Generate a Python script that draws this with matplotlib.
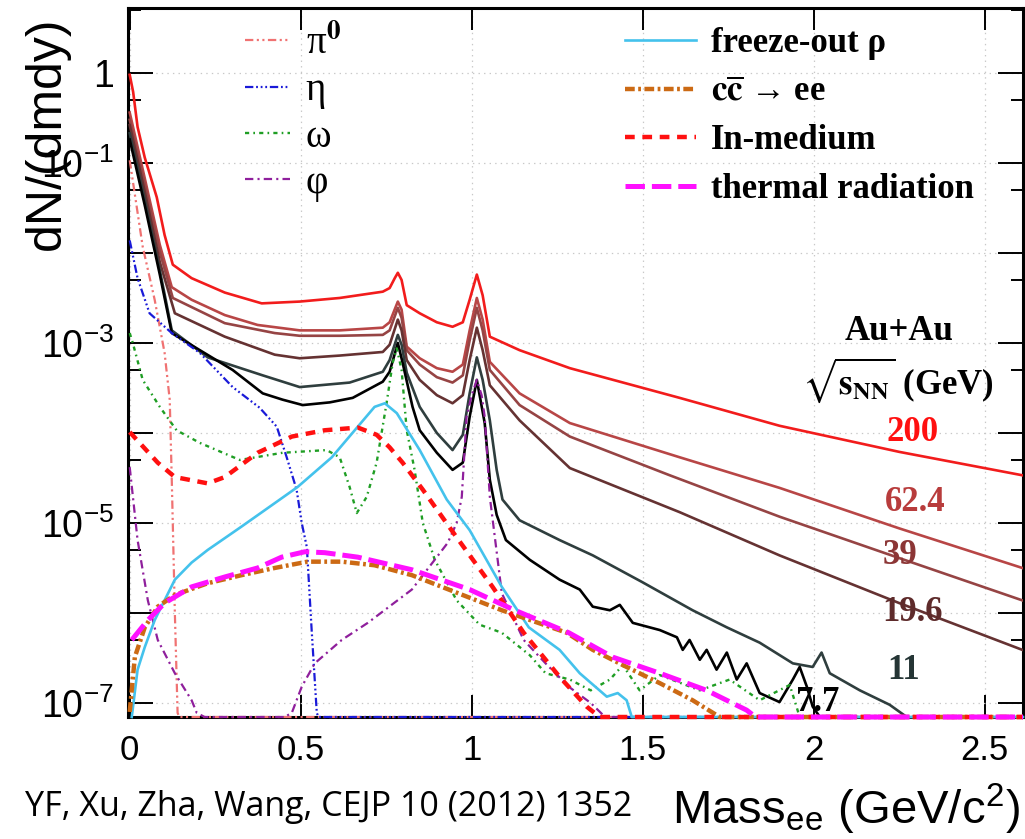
import numpy as np
import matplotlib
matplotlib.use('Agg')
import matplotlib.pyplot as plt
from matplotlib.ticker import FixedLocator, FixedFormatter, NullFormatter, NullLocator

plt.rcParams['font.family'] = 'Liberation Sans'
plt.rcParams['mathtext.fontset'] = 'stix'
plt.rcParams['lines.scale_dashes'] = False

# --- values: mass (GeV/c^2) and log10(dN/dmdy) ---
# Au+Au sums for each energy
m_200 = [0.0, 0.01, 0.023, 0.044, 0.079, 0.102, 0.126, 0.181, 0.278, 0.386, 0.497, 0.614, 0.74, 0.76, 0.775,
         0.784, 0.795, 0.81, 0.848, 0.898, 0.944, 0.974, 0.994, 1.015, 1.032, 1.053, 1.14, 1.287, 1.608, 1.90,
         2.25, 2.61]
lg_200 = [-0.02, -0.21, -0.60, -0.94, -1.38, -1.80, -2.13, -2.28, -2.44, -2.56, -2.54, -2.50, -2.43, -2.39, -2.28,
          -2.22, -2.30, -2.58, -2.67, -2.77, -2.82, -2.77, -2.52, -2.24, -2.47, -2.93, -3.08, -3.28, -3.61, -3.92,
          -4.21, -4.47]

m_624 = [0.0, 0.044, 0.088, 0.123, 0.181, 0.278, 0.374, 0.497, 0.614, 0.74, 0.76, 0.784, 0.795, 0.81, 0.848,
         0.898, 0.944, 0.974, 0.994, 1.015, 1.032, 1.053, 1.14, 1.287, 1.608, 1.90, 2.25, 2.61]
lg_624 = [-0.44, -1.17, -1.91, -2.38, -2.52, -2.69, -2.80, -2.86, -2.86, -2.83, -2.77, -2.54, -2.63, -3.04, -3.17,
          -3.28, -3.32, -3.24, -2.86, -2.50, -2.74, -3.21, -3.56, -3.89, -4.27, -4.61, -5.06, -5.50]

m_39 = [0.0, 0.044, 0.088, 0.126, 0.278, 0.424, 0.497, 0.614, 0.74, 0.76, 0.784, 0.795, 0.81, 0.848, 0.898,
        0.944, 0.974, 0.994, 1.015, 1.032, 1.053, 1.14, 1.287, 1.579, 1.90, 2.25, 2.61]
lg_39 = [-0.52, -1.24, -1.99, -2.50, -2.78, -2.89, -2.92, -2.92, -2.91, -2.86, -2.61, -2.72, -3.08, -3.24, -3.38,
         -3.44, -3.36, -2.97, -2.61, -2.86, -3.30, -3.69, -4.04, -4.47, -4.93, -5.39, -5.86]

m_196 = [0.0, 0.044, 0.088, 0.132, 0.278, 0.424, 0.497, 0.614, 0.74, 0.76, 0.784, 0.795, 0.81, 0.848, 0.898,
         0.944, 0.974, 0.994, 1.015, 1.032, 1.053, 1.14, 1.287, 1.608, 1.90, 2.25, 2.61]
lg_196 = [-0.58, -1.32, -2.10, -2.67, -2.93, -3.13, -3.17, -3.14, -3.10, -3.02, -2.74, -2.86, -3.19, -3.41, -3.58,
          -3.67, -3.58, -3.19, -2.83, -3.08, -3.47, -3.86, -4.39, -4.88, -5.36, -5.89, -6.41]

m_11 = [0.0, 0.044, 0.088, 0.123, 0.228, 0.389, 0.497, 0.643, 0.74, 0.76, 0.784, 0.795, 0.81, 0.848, 0.898,
        0.944, 0.974, 0.994, 1.015, 1.032, 1.053, 1.073, 1.09, 1.14, 1.257, 1.354, 1.50, 1.646, 1.746, 1.842,
        1.939, 1.997, 2.023, 2.047, 2.135, 2.222, 2.272]
lg_11 = [-0.67, -1.41, -2.19, -2.86, -3.16, -3.36, -3.49, -3.44, -3.32, -3.19, -2.91, -3.02, -3.33, -3.71, -4.00,
         -4.19, -4.02, -3.56, -3.16, -3.41, -3.86, -4.41, -4.74, -4.97, -5.19, -5.36, -5.66, -5.97, -6.16, -6.33,
         -6.56, -6.60, -6.44, -6.67, -6.86, -7.02, -7.19]

m_77 = [0.0, 0.044, 0.088, 0.123, 0.205, 0.301, 0.389, 0.447, 0.506, 0.585, 0.652, 0.74, 0.76, 0.784, 0.798,
        0.827, 0.848, 0.898, 0.944, 0.974, 0.994, 1.015, 1.038, 1.053, 1.073, 1.10, 1.17, 1.257, 1.316, 1.354,
        1.404, 1.433, 1.471, 1.55, 1.60, 1.617, 1.637, 1.667, 1.687, 1.716, 1.746, 1.775, 1.804, 1.842, 1.90,
        1.939, 1.959, 1.98, 1.997, 2.018]
lg_77 = [-0.74, -1.47, -2.24, -2.89, -3.08, -3.30, -3.56, -3.63, -3.69, -3.66, -3.61, -3.43, -3.32, -3.00, -3.22,
         -3.71, -3.97, -4.22, -4.41, -4.33, -3.82, -3.41, -3.89, -4.52, -4.91, -5.19, -5.41, -5.63, -5.74, -5.93,
         -5.97, -5.91, -6.11, -6.19, -6.27, -6.41, -6.30, -6.52, -6.41, -6.63, -6.44, -6.74, -6.56, -6.89, -6.99,
         -6.74, -6.60, -6.82, -7.04, -7.19]

energies = ['200', '62.4', '39', '19.6', '11', '7.7']
energy_colors = ['#f21c1c', '#b84646', '#964444', '#653232', '#2f3e3e', '#000000']
label_colors = ['#ff1010', '#b83c3c', '#8c3636', '#5e2b2b', '#253535', '#000000']

# cocktail components
m_pi0 = [0.0, 0.038, 0.073, 0.102, 0.117, 0.123, 0.132, 0.14, 0.145]
lg_pi0 = [-0.97, -1.93, -2.52, -3.11, -3.63, -4.52, -6.0, -7.11, -8.0]

m_eta = [0.0, 0.023, 0.058, 0.123, 0.205, 0.301, 0.38, 0.43, 0.459, 0.488, 0.503, 0.518, 0.532, 0.547, 0.552]
lg_eta = [-1.86, -2.28, -2.67, -2.89, -3.11, -3.49, -3.72, -3.93, -4.27, -4.63, -5.0, -5.27, -6.19, -7.11, -8.0]

m_omega = [0.0, 0.009, 0.038, 0.088, 0.137, 0.205, 0.322, 0.447, 0.576, 0.614, 0.643, 0.664, 0.693, 0.722, 0.751,
           0.769, 0.781, 0.795, 0.81, 0.833, 0.857, 0.892, 0.956, 1.023, 1.088, 1.17, 1.216, 1.287, 1.348, 1.404,
           1.442, 1.491, 1.55, 1.667, 1.754, 1.842, 1.93, 1.959]
lg_omega = [-2.89, -3.0, -3.41, -3.71, -3.97, -4.11, -4.30, -4.22, -4.19, -4.27, -4.60, -4.89, -4.71, -4.33, -3.67,
            -3.22, -3.06, -3.30, -3.97, -4.41, -5.0, -5.41, -5.86, -6.13, -6.22, -6.47, -6.67, -6.74, -6.86, -6.74,
            -6.58, -6.86, -6.69, -6.86, -6.74, -6.97, -6.80, -7.2]

m_phi = [0.0, 0.023, 0.053, 0.082, 0.132, 0.181, 0.196, 0.219, 0.33, 0.453, 0.474, 0.503, 0.541, 0.62, 0.696,
         0.825, 0.93, 0.956, 0.971, 0.985, 1.0, 1.015, 1.029, 1.038, 1.053, 1.088, 1.152, 1.216, 1.284, 1.348, 1.39]
lg_phi = [-4.38, -5.19, -5.86, -6.30, -6.67, -6.97, -7.11, -7.30, -7.8, -7.30, -7.11, -6.82, -6.56, -6.30, -6.11,
          -5.74, -5.22, -5.0, -4.71, -3.82, -3.58, -3.41, -3.58, -3.82, -4.71, -5.78, -6.30, -6.56, -6.82, -7.0, -7.16]

m_rho = [0.006, 0.023, 0.044, 0.073, 0.132, 0.181, 0.228, 0.327, 0.424, 0.491, 0.591, 0.716, 0.746, 0.781, 0.848,
         0.927, 0.994, 1.088, 1.167, 1.257, 1.316, 1.395, 1.427, 1.453, 1.468]
lg_rho = [-7.16, -6.63, -6.38, -6.08, -5.63, -5.44, -5.30, -5.04, -4.78, -4.60, -4.27, -3.71, -3.67, -3.78, -4.19,
          -4.74, -5.08, -5.71, -6.16, -6.41, -6.67, -6.93, -6.89, -6.97, -7.3]

m_ccbar = [0.0, 0.015, 0.044, 0.082, 0.132, 0.228, 0.327, 0.424, 0.52, 0.62, 0.716, 0.825, 1.088, 1.278, 1.354,
           1.453, 1.55, 1.646, 1.725]
lg_ccbar = [-7.1, -6.49, -6.16, -5.93, -5.80, -5.67, -5.58, -5.50, -5.43, -5.43, -5.47, -5.58, -5.97, -6.22, -6.41,
            -6.60, -6.78, -6.97, -7.2]

m_medium = [0.0, 0.082, 0.132, 0.228, 0.278, 0.374, 0.474, 0.57, 0.667, 0.722, 0.76, 0.798, 0.857, 0.956, 1.061,
            1.152, 1.257, 1.336, 1.374]
lg_medium = [-3.99, -4.33, -4.49, -4.56, -4.49, -4.22, -4.04, -3.97, -3.94, -4.02, -4.16, -4.33, -4.63, -5.16, -5.71,
             -6.22, -6.71, -7.04, -7.2]

m_thermal = [0.006, 0.053, 0.102, 0.181, 0.278, 0.374, 0.444, 0.512, 0.57, 0.667, 0.825, 0.994, 1.126, 1.284,
             1.412, 1.55, 1.687, 1.804, 1.83]
lg_thermal = [-6.30, -6.08, -5.89, -5.71, -5.60, -5.50, -5.38, -5.32, -5.33, -5.38, -5.52, -5.74, -5.97, -6.22,
              -6.49, -6.67, -6.86, -7.08, -7.2]

XMIN, XMAX = -0.005, 2.612
YMIN, YMAX = 10 ** -7.156, 10 ** 0.722

fig = plt.figure(figsize=(10.25, 8.39), dpi=100)
ax = fig.add_axes([128 / 1025, 1 - 717 / 839, 895 / 1025, 709 / 839])
ax.set_yscale('log')

# energy sums
sums = [(m_200, lg_200), (m_624, lg_624), (m_39, lg_39), (m_196, lg_196), (m_11, lg_11), (m_77, lg_77)]
for (m, lg), c in zip(sums, energy_colors):
    y = np.maximum(10.0 ** np.array(lg), YMIN)
    ax.plot(m, y, color=c, lw=1.9, zorder=2.6)


def component(m, lg, **kw):
    # ROOT draws points below the frame on the frame bottom
    x = np.append(m, XMAX)
    y = np.append(np.maximum(10.0 ** np.array(lg), YMIN), YMIN)
    line, = ax.plot(x, y, clip_on=False, **kw)
    return line


h_pi0 = component(m_pi0, lg_pi0, color='#f07272', lw=1.6, dashes=(6, 2.5, 1.5, 2.5, 1.5, 2.5),
                  label=r'π$^{\mathbf{0}}$', zorder=2.7)
h_eta = component(m_eta, lg_eta, color='#1a1ad8', lw=1.6, dashes=(6, 2, 1.3, 2, 1.3, 2, 1.3, 2),
                  label='η', zorder=2.75)
h_omega = component(m_omega, lg_omega, color='#1f9e24', lw=1.7, dashes=(3, 3, 1.2, 3),
                    label='ω', zorder=2.8)
h_phi = component(m_phi, lg_phi, color='#8f1f9c', lw=1.6, dashes=(6, 3, 1.5, 3),
                  label='φ', zorder=2.85)
h_rho = component(m_rho, lg_rho, color='#44c2ec', lw=1.9, label='freeze-out ρ', zorder=2.9)
h_cc = component(m_ccbar, lg_ccbar, color='#cc6a14', lw=3.2, dashes=(7, 2.5, 2, 2.5),
                 label=r'$\mathbf{c\overline{c}}$ → ee', zorder=2.95)
h_med = component(m_medium, lg_medium, color='#ff1010', lw=3.2, dashes=(7, 5.5),
                  label='In-medium', zorder=3.0)
h_th = component(m_thermal, lg_thermal, color='#ff10ff', lw=3.6, dashes=(14, 5),
                 label='thermal radiation', zorder=3.05)

ax.set_xlim(XMIN, XMAX)
ax.set_ylim(YMIN, YMAX)

# axes, ticks, grid
ax.set_xticks([0, 0.5, 1, 1.5, 2, 2.5])
ax.set_xticklabels(['0', '0.5', '1', '1.5', '2', '2.5'])
ax.xaxis.set_minor_locator(NullLocator())
decades = range(-7, 1)
ylabels = {0: '1', -1: r'$\mathregular{10^{-1}}$', -3: r'$\mathregular{10^{-3}}$',
           -5: r'$\mathregular{10^{-5}}$', -7: r'$\mathregular{10^{-7}}$'}
ax.yaxis.set_major_locator(FixedLocator([10.0 ** d for d in decades]))
ax.yaxis.set_major_formatter(FixedFormatter([ylabels.get(d, '') for d in decades]))
ax.yaxis.set_minor_locator(FixedLocator([5 * 10.0 ** d for d in range(-8, 1)]))
ax.yaxis.set_minor_formatter(NullFormatter())

ax.tick_params(axis='x', which='major', direction='in', length=16, width=1.4, labelsize=25, pad=12, top=True)
ax.tick_params(axis='y', which='major', direction='in', length=18, width=1.4, labelsize=27, pad=10, right=True)
ax.tick_params(axis='y', which='minor', direction='in', length=9, width=1.4, right=True)
for s in ax.spines.values():
    s.set_linewidth(2.2)
ax.set_axisbelow(True)
ax.grid(True, which='major', color='#c8c8c8', linestyle=(0, (1, 3)), linewidth=0.9)

# legends
serif = {'family': 'Liberation Serif', 'size': 28}
leg1 = ax.legend(handles=[h_pi0, h_eta, h_omega, h_phi], loc='upper left', bbox_to_anchor=(0.131, 0.975),
                 frameon=False, prop=serif, handlelength=1.16, handletextpad=0.39, labelspacing=0.24,
                 borderpad=0, borderaxespad=0)
ax.add_artist(leg1)
serif_bold = {'family': 'Liberation Serif', 'size': 25, 'weight': 'bold'}
ax.legend(handles=[h_rho, h_cc, h_med, h_th], loc='upper left', bbox_to_anchor=(0.555, 0.973),
          frameon=False, prop=serif_bold, handlelength=2.05, handletextpad=0.43, labelspacing=0.45,
          borderpad=0, borderaxespad=0)

# energy annotations
txt = dict(transform=ax.transAxes, family='Liberation Serif', weight='bold', size=25, ha='center', va='center')
ax.text(0.861, 0.544, 'Au+Au', **txt)
ax.text(0.860, 0.475, r'$\mathbf{\sqrt{s_{NN}}}$ (GeV)', **txt)
label_pos = [(0.877, 0.401), (0.879, 0.302), (0.863, 0.228), (0.876, 0.148), (0.866, 0.066), (0.771, 0.020)]
for e, c, (px, py) in zip(energies, label_colors, label_pos):
    ax.text(px, py, e, color=c, **txt)

# axis titles and reference
fig.text(47 / 1025, 1 - 133 / 839, 'dN/(dmdy)', rotation=90, ha='center', va='center', size=36)
fig.text(1021 / 1025, 1 - 824 / 839, r'Mass$_\mathregular{ee}$ (GeV/c$^\mathregular{2}$)',
         ha='right', va='baseline', size=34)
fig.text(632 / 1025, 1 - 816 / 839, 'YF, Xu, Zha, Wang, CEJP 10 (2012) 1352', family='Open Sans',
         ha='right', va='baseline', size=24.5)

fig.savefig('out.png', dpi=100)
